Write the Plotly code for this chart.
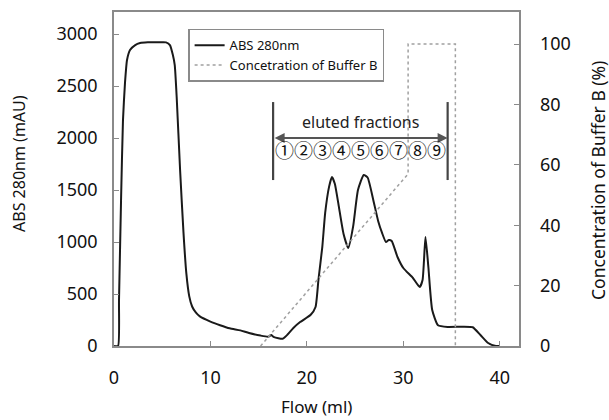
import plotly.graph_objects as go

# ---- data ----
flow_ml = [0, 0.42, 0.52, 0.73, 0.93, 1.14, 1.35, 1.66, 2.2, 2.7, 3.5, 4.5, 5.4, 5.8, 6.1, 6.3, 6.5,
           6.85, 7.2, 7.5, 7.8, 8.1, 8.5, 8.9, 10, 11, 12, 13.1, 14, 15.2, 16, 16.3, 16.6, 17.5, 18.0,
           18.6, 19.3, 20.4, 20.9, 21.2, 21.6, 21.9, 22.3, 22.6, 22.9, 23.3, 23.8, 24.3, 24.8, 25.3,
           25.9, 26.3, 26.9, 27.4, 27.8, 28.2, 28.5, 28.8, 29.4, 30.0, 31.0, 31.7, 32.0, 32.3, 32.6,
           33.0, 33.6, 34.6, 36.0, 37.2, 38.0, 38.8, 39.6, 40.0]
abs_mau = [0, 0, 442, 1400, 2170, 2530, 2750, 2846, 2894, 2913, 2920, 2920, 2920, 2894, 2800, 2700, 2394,
           1700, 1100, 700, 480, 380, 320, 285, 235, 200, 170, 150, 125, 100, 90, 105, 85, 70, 110,
           173, 230, 300, 375, 635, 952, 1280, 1530, 1625, 1560, 1350, 1080, 942, 1150, 1500,
           1645, 1620, 1400, 1200, 1087, 1000, 1020, 1010, 856, 750, 654, 567, 635, 1048, 760,
           346, 200, 183, 185, 180, 106, 29, 0, 0]

grad_flow = [15.2, 30.5, 30.5, 35.4, 35.4]
grad_pct = [0, 57, 100, 100, 0]

x_ticks = [0, 10, 20, 30, 40]
y_ticks = [0, 500, 1000, 1500, 2000, 2500, 3000]
y2_ticks = [0, 20, 40, 60, 80, 100]

fraction_labels = "①②③④⑤⑥⑦⑧⑨"
fraction_start, fraction_end = 16.5, 34.6

FONT = "Noto Sans, Noto Sans CJK JP"
CJK = "Noto Sans CJK JP"
AXIS_GRAY = "#8a8a8a"

fig = go.Figure()
fig.add_trace(go.Scatter(x=flow_ml, y=abs_mau, mode="lines", name="ABS 280nm",
                         line=dict(color="#1a1a1a", width=2, shape="spline", smoothing=0.5)))
fig.add_trace(go.Scatter(x=grad_flow, y=grad_pct, mode="lines", name="Concetration of Buffer B",
                         yaxis="y2", line=dict(color="#a0a0a0", width=1.5, dash="dot")))

# fraction markers
for xv in (fraction_start, fraction_end):
    fig.add_shape(type="line", xref="x", yref="y", x0=xv, x1=xv, y0=1596, y1=2346,
                  line=dict(color="#444", width=2.2))
fig.add_annotation(x=fraction_end, y=2000, ax=fraction_start, ay=2000, xref="x", yref="y",
                   axref="x", ayref="y", text="", showarrow=True, arrowhead=2, arrowside="end+start",
                   arrowsize=1, arrowwidth=2, arrowcolor="#555")
fig.add_annotation(x=(fraction_start + fraction_end) / 2, y=2150, xref="x", yref="y",
                   text="eluted fractions", showarrow=False, font=dict(size=16, color="#222", family=FONT))
fig.add_annotation(x=(fraction_start + fraction_end) / 2, y=1885, xref="x", yref="y",
                   text=fraction_labels, showarrow=False, font=dict(size=19, color="#111", family=CJK))

# axis titles
fig.add_annotation(x=-0.2346, y=0.548, xref="paper", yref="paper", text="ABS 280nm (mAU)",
                   xanchor="center", yanchor="middle",
                   textangle=-90, showarrow=False, font=dict(size=16, color="#111"))
fig.add_annotation(x=0.5, y=-0.1826, xref="paper", yref="paper", text="Flow (ml)",
                   xanchor="center", yanchor="middle",
                   showarrow=False, font=dict(size=17, color="#111"))
fig.add_annotation(x=1.195, y=0.497, xref="paper", yref="paper", text="Concentration of Buffer B (%)",
                   xanchor="center", yanchor="middle",
                   textangle=-90, showarrow=False, font=dict(size=17.5, color="#111"))

fig.update_layout(
    width=609, height=420,
    margin=dict(l=114, r=90, t=12, b=74),
    paper_bgcolor="white", plot_bgcolor="white",
    font=dict(family=FONT, color="#111", size=18),
    showlegend=True,
    legend=dict(x=0.183, y=0.95, xanchor="left", yanchor="top", bgcolor="white",
                bordercolor=AXIS_GRAY, borderwidth=1.5, font=dict(size=13, family=FONT),
                tracegroupgap=0, itemwidth=30),
    xaxis=dict(range=[0, 42], tickvals=x_ticks, ticks="inside", ticklen=5,
               tickcolor=AXIS_GRAY, showline=True, linecolor=AXIS_GRAY, linewidth=1.5, mirror=True,
               showgrid=False, zeroline=False, ticklabelstandoff=15, automargin=False),
    yaxis=dict(range=[0, 3212], tickvals=y_ticks, ticks="inside",
               ticklen=5, tickcolor=AXIS_GRAY, showline=True, linecolor=AXIS_GRAY, linewidth=1.5,
               mirror=True, showgrid=False, zeroline=False, ticklabelstandoff=11, automargin=False),
    yaxis2=dict(range=[0, 110.6], tickvals=y2_ticks, overlaying="y", side="right",
                ticks="inside", ticklen=5, tickcolor=AXIS_GRAY, showline=False, showgrid=False,
                zeroline=False, ticklabelstandoff=20, automargin=False),
)

fig.write_html("out.html", config={"displayModeBar": False},
               post_script="document.body.style.margin='0';")
